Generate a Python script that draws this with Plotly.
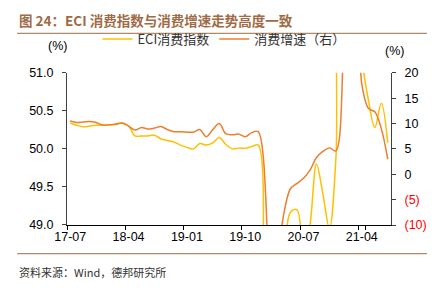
import plotly.graph_objects as go
import pandas as pd

months = [p.strftime("%y-%m") for p in pd.period_range("2017-07", "2021-08", freq="M")]
tick_labels = ["17-07", "18-04", "19-01", "19-10", "20-07", "21-04"]

eci_index = [50.34, 50.31, 50.29, 50.30, 50.31, 50.31, 50.31, 50.32, 50.34, 50.30,
             50.17, 50.17, 50.17, 50.18, 50.13, 50.11, 50.09, 50.05, 50.02, 50.00,
             50.07, 50.05, 50.08, 50.15, 50.06, 50.00, 50.01, 50.01, 50.03, 50.05,
             47.3, 47.0, 47.0, 47.8, 49.17, 49.2, 48.6, 49.0, 49.8, 49.4,
             48.95, 49.88, 53.0, 53.0, 53.0, 51.2, 50.65, 50.28, 50.6, 50.08]

retail_growth = [10.5, 10.2, 10.3, 10.4, 10.2, 9.7, None, 9.9, 10.1, 9.5,
                 8.7, 9.2, 8.9, 9.1, 9.4, 8.8, 8.4, 8.4, None, 8.3,
                 8.8, 7.4, 8.8, 10.0, 8.0, 7.8, 7.9, 7.4, 8.2, 8.4,
                 None, -20.5, -15.8, -7.5, -2.8, -1.8, -0.8, 0.8, 3.3, 4.5,
                 5.2, 4.6, None, 33.8, 34.2, 17.7, 13.0, 12.3, 9.0, 3.0]

left_ticks = [49.0, 49.5, 50.0, 50.5, 51.0]
right_ticks = [-10, -5, 0, 5, 10, 15, 20]
right_text = ['<span style="color:#FF0000">(10)</span>', '<span style="color:#FF0000">(5)</span>',
              "0", "5", "10", "15", "20"]

YELLOW = "#FFC000"
ORANGE = "#ED7D31"
BROWN = "#9E6B45"
CJK = "Noto Sans CJK SC"

fig = go.Figure()
fig.add_trace(go.Scatter(x=months, y=eci_index, name="ECI消费指数", mode="lines",
                         line=dict(color=YELLOW, width=1.5, shape="spline"), yaxis="y"))
fig.add_trace(go.Scatter(x=months, y=retail_growth, name="消费增速（右）", mode="lines",
                         connectgaps=True,
                         line=dict(color=ORANGE, width=1.5, shape="spline"), yaxis="y2"))

fig.update_layout(
    width=439, height=290,
    margin=dict(l=67, r=47, t=69, b=65),
    paper_bgcolor="white", plot_bgcolor="white",
    font=dict(family="Liberation Sans, Arial", size=12, color="#000000"),
    showlegend=True,
    legend=dict(orientation="h", xref="container", yref="container", x=0.222, y=0.865,
                xanchor="left", yanchor="middle", font=dict(family=CJK, size=13, color="#333333"),
                bgcolor="rgba(0,0,0,0)", itemwidth=30, tracegroupgap=0),
    xaxis=dict(type="category", range=[-0.5, 49.5], tickmode="array", tickvals=tick_labels,
               ticktext=tick_labels, tickson="boundaries", ticks="outside", ticklen=4,
               tickangle=0, tickcolor="#000000", showline=True, linecolor="#000000", linewidth=1,
               showgrid=False, zeroline=False, tickfont=dict(size=12.5)),
    yaxis=dict(range=[49, 51], tickvals=left_ticks, ticktext=[f"{v:.1f}" for v in left_ticks],
               ticks="outside", ticklen=4, tickcolor="#404040", showline=True,
               linecolor="#404040", linewidth=1, showgrid=False, zeroline=False,
               tickfont=dict(size=12.5), ticklabelstandoff=6),
    yaxis2=dict(range=[-10, 20], tickvals=right_ticks, ticktext=right_text, overlaying="y",
                side="right", ticks="outside", ticklen=4, tickcolor="#404040", showline=True,
                linecolor="#404040", linewidth=1, showgrid=False, zeroline=False,
                tickfont=dict(size=12.5), ticklabelstandoff=6),
)

annotations = [
    dict(text="<b>图 24：ECI 消费指数与消费增速走势高度一致</b>", x=17, y=15, xanchor="left",
         yanchor="middle", font=dict(family=CJK, size=13.5, color=BROWN)),
    dict(text="资料来源：Wind，德邦研究所", x=17, y=273, xanchor="left", yanchor="middle",
         font=dict(family=CJK, size=11, color="#333333")),
    dict(text="(%)", x=57, y=42, xanchor="center", yanchor="middle",
         font=dict(family="Liberation Sans", size=12.5, color="#000000")),
    dict(text="(%)", x=396, y=46.5, xanchor="center", yanchor="middle",
         font=dict(family="Liberation Sans", size=12.5, color="#000000")),
]
for a in annotations:
    fig.add_annotation(xref="paper", yref="paper", showarrow=False,
                       **{k: v for k, v in a.items() if k not in ("x", "y")},
                       x=(a["x"] - 67) / (439 - 67 - 47), y=1 - (a["y"] - 69) / (290 - 69 - 65))

for yy in (28.7, 254.3):
    fig.add_shape(type="line", xref="paper", yref="paper",
                  x0=(17 - 67) / 325, x1=(428 - 67) / 325,
                  y0=1 - (yy - 69) / 156, y1=1 - (yy - 69) / 156,
                  line=dict(color="#B08A66", width=1.2))

fig.write_html("out.html")
